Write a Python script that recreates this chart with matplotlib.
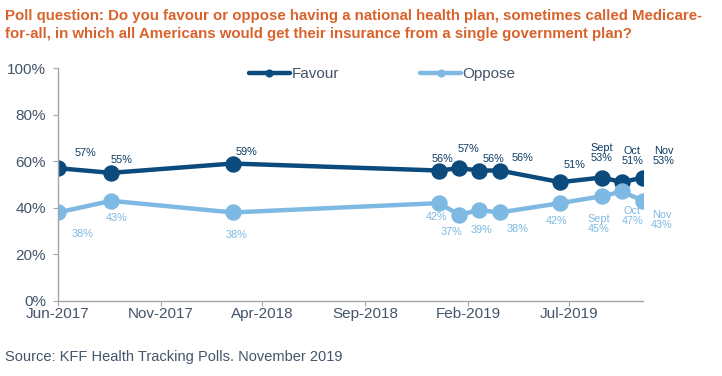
import matplotlib
matplotlib.use("Agg")
import matplotlib.pyplot as plt
import matplotlib.dates as mdates
import numpy as np
import pandas as pd

plt.rcParams['font.family'] = ['Liberation Sans', 'DejaVu Sans']

# poll dates and results (%)
dates = pd.to_datetime([
    "2017-06-01", "2017-08-19", "2018-02-16", "2018-12-19", "2019-01-19",
    "2019-02-17", "2019-03-20", "2019-06-18", "2019-08-19", "2019-09-18",
    "2019-10-19",
])
favour = [57, 55, 59, 56, 57, 56, 56, 51, 53, 51, 53]
oppose = [38, 43, 38, 42, 37, 39, 38, 42, 45, 47, 43]
favour_labels = ["57%", "55%", "59%", "56%", "57%", "56%", "56%", "51%",
                 "Sept\n53%", "Oct\n51%", "Nov\n53%"]
oppose_labels = ["38%", "43%", "38%", "42%", "37%", "39%", "38%", "42%",
                 "Sept\n45%", "Oct\n47%", "Nov\n43%"]
tick_dates = pd.to_datetime(["2017-06-01", "2017-11-01", "2018-04-01",
                             "2018-09-01", "2019-02-01", "2019-07-01"])

# label offsets in pixels (dx, dy)
fav_off = [(27, 15), (10, 13), (14, 12), (4, 12), (9, 19), (15, 12),
           (23, 13), (14, 17), (0, 25), (10, 26), (21, 22)]
opp_off = [(25, -22), (6, -17), (4, -23), (-2, -14), (-8, -17), (3, -20),
           (18, -17), (-4, -18), (-3, -28), (10, -25), (19, -19)]

c_fav = '#0B4A7D'
c_opp = '#7DB9E2'
c_txt = '#44546A'
c_axis = '#A6A6A6'

fig = plt.figure(figsize=(7.22, 3.76), dpi=100)
W, H = 722, 376
ax = fig.add_axes([58 / W, 1 - 301 / H, 585 / W, 233 / H])

ax.plot(dates, favour, color=c_fav, lw=3.2, marker='o', ms=10.8,
        label='Favour', solid_capstyle='round')
ax.plot(dates, oppose, color=c_opp, lw=3.2, marker='o', ms=10.8,
        label='Oppose', solid_capstyle='round')

for d, v, s, (dx, dy) in zip(dates, favour, favour_labels, fav_off):
    ax.annotate(s, (d, v), xytext=(dx, dy), textcoords='offset pixels',
                ha='center', va='center', fontsize=7.8, color='#0B3A63',
                linespacing=1.0)
for d, v, s, (dx, dy) in zip(dates, oppose, oppose_labels, opp_off):
    ax.annotate(s, (d, v), xytext=(dx, dy), textcoords='offset pixels',
                ha='center', va='center', fontsize=7.8, color=c_opp,
                linespacing=1.0)

ax.set_ylim(0, 100)
ax.set_xlim(dates[0], dates[-1])
ax.set_yticks(np.arange(0, 101, 20))
ax.set_yticklabels([f"{v}%" for v in range(0, 101, 20)])
ax.set_xticks(tick_dates)
ax.xaxis.set_major_formatter(mdates.DateFormatter('%b-%Y'))

for side in ['top', 'right']:
    ax.spines[side].set_visible(False)
for side in ['left', 'bottom']:
    ax.spines[side].set_color(c_axis)
    ax.spines[side].set_linewidth(1.0)
ax.tick_params(axis='y', colors=c_axis, labelcolor=c_txt, labelsize=11,
               length=3.5, pad=5)
ax.tick_params(axis='x', colors=c_axis, labelcolor=c_txt, labelsize=11,
               length=3.5, pad=0.5)

leg = ax.legend(loc='center left', bbox_to_anchor=(0.326, 0.974), ncol=2,
                frameon=False, fontsize=11, handlelength=2.7,
                handletextpad=0.1, columnspacing=5.3, markerscale=0.45,
                borderpad=0, borderaxespad=0)
for t in leg.get_texts():
    t.set_color(c_txt)

fig.text(5 / W, 1 - 25 / H,
         "Poll question: Do you favour or oppose having a national health plan, sometimes called Medicare-\n"
         "for-all, in which all Americans would get their insurance from a single government plan?",
         ha='left', va='center', fontsize=10.8, fontweight='bold', color='#D9622B',
         linespacing=1.4)
fig.text(5 / W, 1 - 357 / H, "Source: KFF Health Tracking Polls. November 2019",
         ha='left', va='center', fontsize=10.5, color=c_txt)

fig.savefig("out.png", dpi=100)
